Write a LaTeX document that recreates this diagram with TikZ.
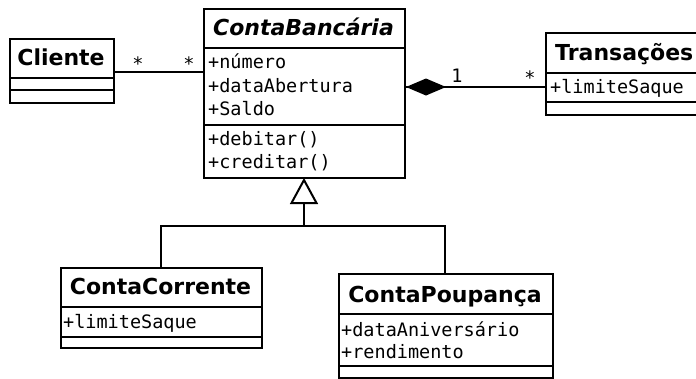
\documentclass[tikz,border=0pt]{standalone}
\usepackage{fontspec}
\newfontfamily\ttl{DejaVu Sans}
\newfontfamily\mno{DejaVu Sans Mono}
\usetikzlibrary{arrows.meta}
\tikzset{
  cls/.style={draw, line width=2pt, fill=white, inner sep=0pt, anchor=north west},
  sep/.style={line width=2pt},
  conn/.style={line width=2pt},
  title/.style={font=\ttl\bfseries\fontsize{22}{24}\selectfont, inner sep=0pt, anchor=base},
  ititle/.style={font=\ttl\bfseries\itshape\fontsize{22}{24}\selectfont, inner sep=0pt, anchor=base},
  attr/.style={font=\mno\fontsize{18.5}{22}\selectfont, inner sep=0pt, anchor=base west},
  mult/.style={font=\mno\fontsize{18.5}{22}\selectfont, inner sep=0pt, anchor=base},
}
\begin{document}
\begin{tikzpicture}[x=1pt,y=-1pt]
\clip (0,0) rectangle (696,378);
\fill[white] (0,0) rectangle (696,378);
% Cliente
\node[cls, minimum width=104pt, minimum height=64pt] (cli) at (9,38) {};
\draw[sep] (9,78) -- (113,78) (9,90) -- (113,90);
\node[title] (clit) at (61,65) {Cliente};
% ContaBancaria
\node[cls, minimum width=201pt, minimum height=169pt] (cb) at (203,8) {};
\draw[sep] (203,48) -- (404,48) (203,125) -- (404,125);
\node[ititle] (cbt) at (303.5,35) {ContaBancária};
\node[attr] (cba1) at (208,68) {+número};
\node[attr] (cba2) at (208,92.5) {+dataAbertura};
\node[attr] (cba3) at (208,115.5) {+Saldo};
\node[attr] (cbm1) at (208,145) {+debitar()};
\node[attr] (cbm2) at (208,168) {+creditar()};
% Transacoes
\node[cls, minimum width=160pt, minimum height=82pt] (tr) at (545,32) {};
\draw[sep] (545,73) -- (705,73) (545,102) -- (705,102);
\node[title, anchor=base west] (trt) at (555,60) {Transações};
\node[attr] (tra1) at (550,93) {+limiteSaque};
% ContaCorrente
\node[cls, minimum width=201pt, minimum height=80pt] (cc) at (60,267) {};
\draw[sep] (60,307) -- (261,307) (60,337) -- (261,337);
\node[title] (cct) at (160.5,294) {ContaCorrente};
\node[attr] (cca1) at (63,328) {+limiteSaque};
% ContaPoupanca
\node[cls, minimum width=214pt, minimum height=104pt] (cp) at (338,273) {};
\draw[sep] (338,314) -- (552,314) (338,366) -- (552,366);
\node[title] (cpt) at (445,302) {ContaPoupança};
\node[attr] (cpa1) at (341,336) {+dataAniversário};
\node[attr] (cpa2) at (341,358) {+rendimento};
% Associations
\draw[conn] (cli.east |- 0,72) coordinate (a1) -- (cb.west |- 0,72) coordinate (a2);
\node[mult] (m1) at (138,70) {*};
\node[mult] (m2) at (189,70) {*};
\draw[conn] (tr.west |- 0,87) coordinate (c1) -- (cb.east |- 0,87) coordinate (c2);
\fill (c2) -- ++(20,-8.5) -- ++(20,8.5) -- ++(-20,8.5) -- cycle;
\node[mult] (m3) at (457,82) {1};
\node[mult] (m4) at (530,84) {*};
% Generalization
\coordinate (apex) at (304,180);
\coordinate (g1) at (304,226);
\draw[conn] (cc.north -| 161,0) |- (g1) -| (cp.north -| 445,0);
\draw[conn] (g1) -- (304,203);
\draw[conn, line join=miter] (apex) -- (316.5,203) -- (291.5,203) -- cycle;
\end{tikzpicture}
\end{document}
